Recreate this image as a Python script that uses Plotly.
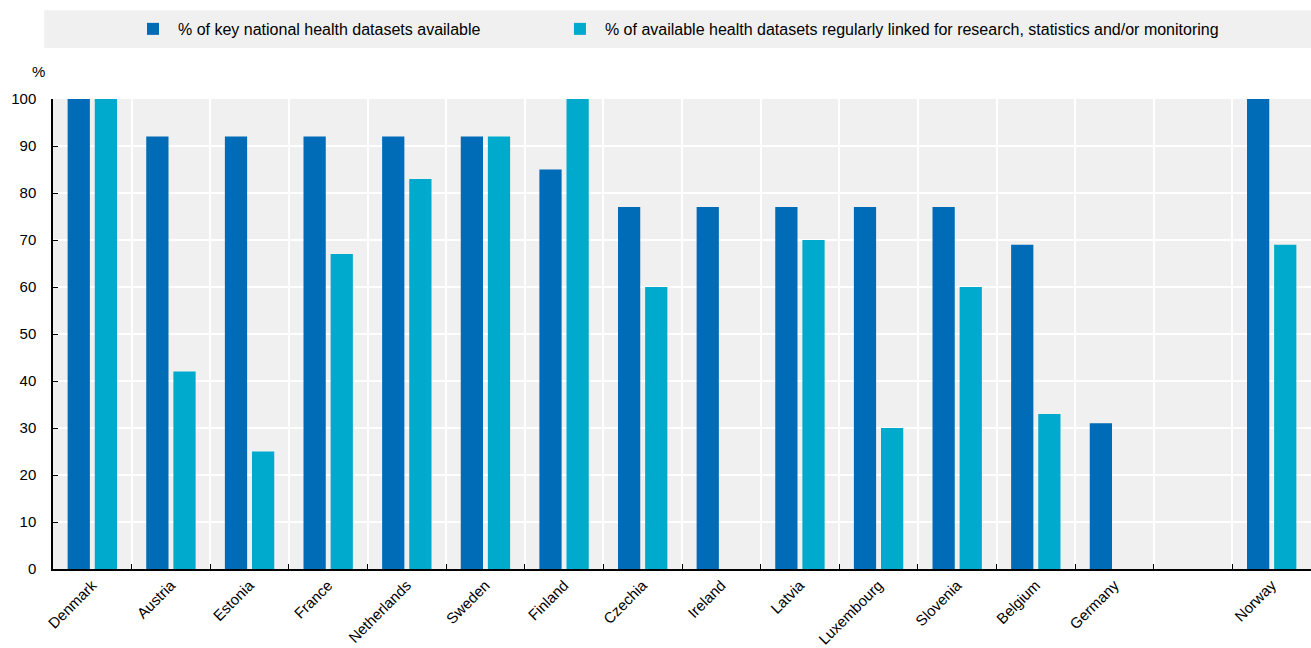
import plotly.graph_objects as go

# data
countries = ["Denmark", "Austria", "Estonia", "France", "Netherlands", "Sweden",
             "Finland", "Czechia", "Ireland", "Latvia", "Luxembourg", "Slovenia",
             "Belgium", "Germany", " ", "Norway"]
available = [100, 92, 92, 92, 92, 92, 85, 77, 77, 77, 77, 77, 69, 31, None, 100]
linked = [100, 42, 25, 67, 83, 92, 100, 60, None, 70, 30, 60, 33, None, None, 69]

name_avail = "% of key national health datasets available"
name_linked = "% of available health datasets regularly linked for research, statistics and/or monitoring"

font_fam = "Liberation Sans Narrow, Arial Narrow, Liberation Sans, Arial, sans-serif"

fig = go.Figure()
fig.add_trace(go.Bar(x=countries, y=available, name=name_avail, legend="legend",
                     marker=dict(color="#006BB6", line=dict(width=0))))
fig.add_trace(go.Bar(x=countries, y=linked, name=name_linked, legend="legend2",
                     marker=dict(color="#00AACC", line=dict(width=0))))

# grey band behind the legend
fig.add_shape(type="rect", xref="paper", yref="paper", x0=-0.007, x1=1.0,
              y0=1.1085, y1=1.189, fillcolor="#f0f0f0", line=dict(width=0), layer="below")

fig.add_annotation(text="%", xref="paper", yref="paper", x=-0.005, y=1.036,
                   xanchor="right", yanchor="bottom", showarrow=False,
                   font=dict(size=15, color="#000", family=font_fam))

leg = dict(orientation="h", yanchor="middle", y=1.149, xanchor="left",
           bgcolor="rgba(0,0,0,0)", font=dict(size=16), itemwidth=40)

fig.update_layout(
    width=1311, height=648,
    margin=dict(l=53, r=0, t=99, b=79),
    paper_bgcolor="white",
    plot_bgcolor="#f0f0f0",
    barmode="group",
    bargap=0.31,
    bargroupgap=0.18,
    font=dict(family=font_fam, size=15, color="#000"),
    showlegend=True,
    legend=dict(leg, x=0.0596),
    legend2=dict(leg, x=0.399),
    xaxis=dict(type="category", tickson="boundaries", ticks="inside", ticklen=5,
               tickcolor="#000", showline=True, linecolor="#000", linewidth=1.5,
               showgrid=True, gridcolor="white", gridwidth=2, tickangle=-45,
               tickfont=dict(size=15), automargin=False),
    yaxis=dict(range=[0, 100], dtick=10, ticks="inside", ticklen=5, tickcolor="#000",
               showline=True, linecolor="#000", linewidth=1.5, showgrid=True,
               gridcolor="white", gridwidth=2, zeroline=False, tickfont=dict(size=15),
               ticklabelstandoff=12, automargin=False),
)

fig.write_html("out.html", config={"displayModeBar": False},
               post_script="document.body.style.margin='0';")
